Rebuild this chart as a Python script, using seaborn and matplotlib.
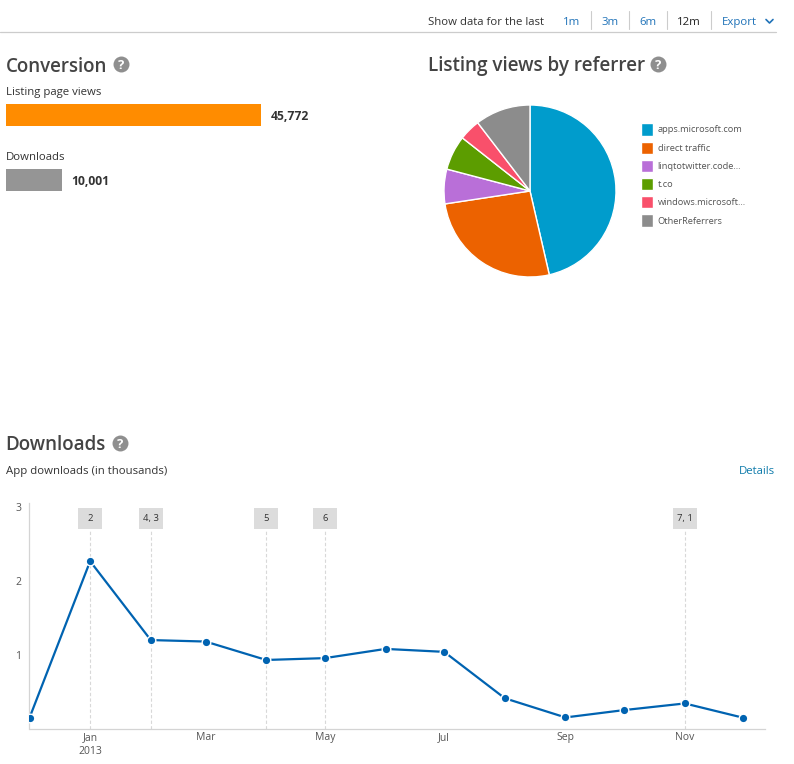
import pandas as pd
import matplotlib.pyplot as plt
import matplotlib.dates as mdates
from matplotlib.patches import Rectangle
import seaborn as sns

# chart data
conv_labels = ["Listing page views", "Downloads"]
conv_values = [45772, 10001]
conv_colors = ["#ff8c00", "#959595"]

ref_labels = ["apps.microsoft.com", "direct traffic", "linqtotwitter.code...", "t.co",
              "windows.microsoft...", "OtherReferrers"]
ref_values = [46.4, 26.2, 6.5, 6.5, 4.0, 10.4]
ref_colors = ["#009ccc", "#ec6200", "#b96fd8", "#5c9d00", "#f9506b", "#8c8c8c"]

months = pd.date_range("2012-12-01", "2013-12-01", freq="MS")
downloads = [0.145, 2.27, 1.20, 1.18, 0.93, 0.955, 1.08, 1.04, 0.41, 0.15, 0.25, 0.34, 0.145]

event_dates = pd.to_datetime(["2013-01-01", "2013-02-01", "2013-04-01", "2013-05-01", "2013-11-01"])
event_labels = ["2", "4, 3", "5", "6", "7, 1"]

tick_dates = pd.to_datetime(["2013-01-01", "2013-03-01", "2013-05-01", "2013-07-01", "2013-09-01", "2013-11-01"])
tick_labels = ["Jan\n2013", "Mar", "May", "Jul", "Sep", "Nov"]

range_labels = ["1m", "3m", "6m"]

W, H = 794, 764
DARK = "#444444"
GREY = "#555555"
LINK = "#1f72b8"
LINE = "#0063b1"

sns.set_style("white")
plt.rcParams["font.family"] = ["Open Sans", "DejaVu Sans"]

fig = plt.figure(figsize=(W / 100, H / 100), dpi=100)


def px_axes(left, top, right, bottom):
    return fig.add_axes([left / W, 1 - bottom / H, (right - left) / W, (bottom - top) / H])


# overlay in pixel coordinates for the page furniture
page = fig.add_axes([0, 0, 1, 1])
page.set_xlim(0, W)
page.set_ylim(H, 0)
page.axis("off")


def help_icon(x, y):
    page.scatter([x], [y], s=132, color="#8f8f8f", linewidths=0)
    page.text(x, y + 0.3, "?", color="white", fontsize=9.5, fontweight="bold", ha="center", va="center_baseline")


# top bar
page.plot([0, 776], [31.5, 31.5], color="#cccccc", lw=0.9)
page.text(428, 25.3, "Show data for the last", fontsize=8.2, color="#333333", va="baseline")
for lab, x in zip(range_labels, [572, 610, 648]):
    page.text(x, 25.3, lab, fontsize=8.2, color=LINK, ha="center", va="baseline")
page.text(688.5, 25.3, "12m", fontsize=8.2, color="#222222", ha="center", va="baseline")
page.text(722, 25.3, "Export", fontsize=8.2, color=LINK, va="baseline")
for x in [590.5, 628.5, 666.5, 710.5]:
    page.plot([x, x], [11, 29], color="#cccccc", lw=0.8)
page.plot([766, 769.5, 773], [19.5, 23, 19.5], color=LINK, lw=1.2)

# headings
page.text(6, 66.5, "Conversion", fontsize=13.5, fontweight="semibold", color=DARK, va="center")
help_icon(121, 64)
page.text(428, 66.5, "Listing views by referrer", fontsize=13.6, fontweight="semibold", color=DARK, va="center")
help_icon(658, 64)
page.text(5.5, 445.5, "Downloads", fontsize=13.5, fontweight="semibold", color=DARK, va="center")
help_icon(120, 443)
page.text(6, 92, conv_labels[0], fontsize=8.2, color="#333333", va="center")
page.text(6, 157.5, conv_labels[1], fontsize=8.2, color="#333333", va="center")
page.text(6, 474, "App downloads (in thousands)", fontsize=8.2, color="#333333", va="baseline")
page.text(775.5, 474, "Details", fontsize=8.2, color="#0f7bab", ha="right", va="baseline")

# conversion bars
ax_bar = px_axes(6, 104, 261, 191)
sns.barplot(x=conv_values, y=conv_labels, hue=conv_labels, palette=conv_colors, width=0.338,
            legend=False, saturation=1, linewidth=0, ax=ax_bar)
ax_bar.set_xlim(0, max(conv_values))
ax_bar.set_ylim(1.169, -0.169)
ax_bar.axis("off")
for i, v in enumerate(conv_values):
    ax_bar.annotate(f"{v:,}", (v, i + 0.02), xytext=(7, 0), textcoords="offset points", fontsize=8.7,
                    fontweight="bold", color="#333333", va="center", annotation_clip=False)

# referrer pie
ax_pie = px_axes(444, 105, 616, 277)
wedges, _ = ax_pie.pie(ref_values, colors=ref_colors, startangle=90, counterclock=False,
                       wedgeprops={"edgecolor": "white", "linewidth": 1})
ax_pie.set_xlim(-1, 1)
ax_pie.set_ylim(-1, 1)
for w in wedges:
    w.set_clip_on(False)
fig.legend(wedges, ref_labels, loc="upper left", bbox_to_anchor=(638 / W, 1 - 120.5 / H), frameon=False,
           fontsize=6.7, labelcolor=GREY, handlelength=1.3, handleheight=1.65, handletextpad=0.5,
           labelspacing=0.64, borderpad=0.3, borderaxespad=0)

# downloads line
ax_line = px_axes(29.5, 503, 765, 728.5)
ax_line.set_xlim(mdates.date2num(pd.Timestamp("2012-12-01")), mdates.date2num(pd.Timestamp("2012-12-01")) + 376)
ax_line.set_ylim(0, 3.06)
for d, lab in zip(event_dates, event_labels):
    ax_line.plot([d, d], [0, 2.71], color="#d8d8d8", lw=0.8, ls=(0, (3, 2)), zorder=1)
    ax_line.add_patch(Rectangle((mdates.date2num(d) - 6.1, 2.71), 12.2, 0.285, facecolor="#dcdcdc",
                                edgecolor="none", zorder=1))
    ax_line.text(d, 2.85, lab, fontsize=6.8, color="#333333", ha="center", va="center", zorder=2)
sns.lineplot(x=months, y=downloads, color=LINE, lw=1.6, marker="o", markersize=6.2, markeredgecolor="white",
             markeredgewidth=1, ax=ax_line, zorder=3)
ax_line.set_xticks(mdates.date2num(tick_dates))
ax_line.set_xticklabels(tick_labels, fontsize=7.5, color=GREY, linespacing=1.35)
ax_line.set_yticks([1, 2, 3])
ax_line.set_yticklabels(["1", "2", "3"], fontsize=7.5, color=GREY)
ax_line.tick_params(length=0, pad=2.5)
ax_line.tick_params(axis="y", pad=6)
sns.despine(ax=ax_line)
for side in ["left", "bottom"]:
    ax_line.spines[side].set_color("#d4d4d4")
    ax_line.spines[side].set_linewidth(0.9)
ax_line.set_xlabel("")
ax_line.set_ylabel("")

fig.savefig("out.png", dpi=100)
